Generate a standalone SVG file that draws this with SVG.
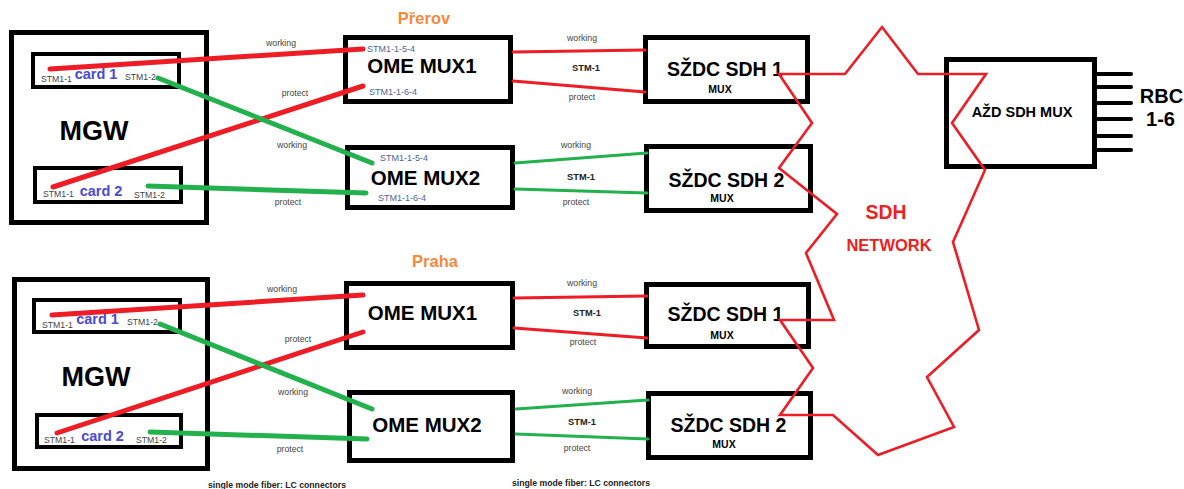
<svg xmlns="http://www.w3.org/2000/svg" width="1184" height="489" viewBox="0 0 1184 489">
<style>
text{font-family:"Liberation Sans",Arial,sans-serif}
.box{fill:#fff;stroke:#000;stroke-width:5}
.card{fill:#fff;stroke:#000;stroke-width:4}
.mgw{font-size:27px;font-weight:bold;fill:#000}
.cardt{font-size:14.5px;font-weight:bold;fill:#4a4ad2}
.port{font-size:8.7px;fill:#444}
.oport{font-size:9px;fill:#4d6496}
.ome{font-size:20.5px;font-weight:bold;fill:#000;text-anchor:middle}
.sdh{font-size:19.5px;font-weight:bold;fill:#000;text-anchor:middle}
.mux{font-size:10.5px;font-weight:bold;fill:#000;text-anchor:middle}
.lbl{font-size:8.7px;fill:#444;text-anchor:middle}
.stm{font-size:9.3px;font-weight:bold;fill:#222;text-anchor:middle}
.site{font-size:16.5px;font-weight:bold;fill:#f58a3d;text-anchor:middle}
.net{font-weight:bold;fill:#ee2020;text-anchor:middle}
.cap{font-size:8.7px;font-weight:bold;fill:#222}
.thickr{stroke:#ee1c24;stroke-width:5;stroke-linecap:round;fill:none}
.thickg{stroke:#22b14c;stroke-width:5;stroke-linecap:round;fill:none}
.thinr{stroke:#ee1c24;stroke-width:3;stroke-linecap:round;fill:none}
.thing{stroke:#22b14c;stroke-width:3;stroke-linecap:round;fill:none}
</style>

<!-- Top site: Přerov -->
<g id="mgw-prerov">
<rect class="box" x="11.5" y="32.5" width="195" height="190"/>
<text class="mgw" x="94" y="140" text-anchor="middle">MGW</text>
</g>
<g id="card1-prerov">
<rect class="card" x="33" y="54" width="146" height="33"/>
<text class="port" x="41" y="82">STM1-1</text>
<text class="cardt" x="96" y="79" text-anchor="middle">card 1</text>
<text class="port" x="125" y="80">STM1-2</text>
</g>
<g id="card2-prerov">
<rect class="card" x="35" y="168" width="146" height="34"/>
<text class="port" x="43" y="197">STM1-1</text>
<text class="cardt" x="101" y="196" text-anchor="middle">card 2</text>
<text class="port" x="134" y="198">STM1-2</text>
</g>
<text class="site" x="424" y="24">Přerov</text>
<g id="ome-mux1-prerov">
<rect class="box" x="345.5" y="37.5" width="165" height="64"/>
<text class="ome" x="422" y="73">OME MUX1</text>
<text class="oport" x="367" y="52">STM1-1-5-4</text>
<text class="oport" x="369" y="95">STM1-1-6-4</text>
</g>
<g id="ome-mux2-prerov">
<rect class="box" x="347.5" y="147.5" width="165" height="60"/>
<text class="ome" x="425.5" y="185">OME MUX2</text>
<text class="oport" x="380" y="161">STM1-1-5-4</text>
<text class="oport" x="378" y="201">STM1-1-6-4</text>
</g>
<g id="szdc-sdh1-prerov">
<rect class="box" x="645.5" y="37.5" width="162" height="64"/>
<text class="sdh" x="725" y="76">SŽDC SDH 1</text>
<text class="mux" x="720" y="93">MUX</text>
</g>
<g id="szdc-sdh2-prerov">
<rect class="box" x="646.5" y="146.5" width="164" height="64"/>
<text class="sdh" x="726.5" y="187">SŽDC SDH 2</text>
<text class="mux" x="722" y="202">MUX</text>
</g>

<!-- Bottom site: Praha -->
<g id="mgw-praha">
<rect class="box" x="14.5" y="279.5" width="193" height="189"/>
<text class="mgw" x="96" y="386" text-anchor="middle">MGW</text>
</g>
<g id="card1-praha">
<rect class="card" x="34" y="300" width="146" height="32"/>
<text class="port" x="42" y="328">STM1-1</text>
<text class="cardt" x="97.5" y="324" text-anchor="middle">card 1</text>
<text class="port" x="127" y="325">STM1-2</text>
</g>
<g id="card2-praha">
<rect class="card" x="37" y="415" width="144" height="32"/>
<text class="port" x="44" y="443">STM1-1</text>
<text class="cardt" x="102.5" y="441" text-anchor="middle">card 2</text>
<text class="port" x="136" y="443">STM1-2</text>
</g>
<text class="site" x="435" y="267">Praha</text>
<g id="ome-mux1-praha">
<rect class="box" x="346.5" y="283.5" width="166" height="64"/>
<text class="ome" x="422.5" y="320">OME MUX1</text>
</g>
<g id="ome-mux2-praha">
<rect class="box" x="349.5" y="392.5" width="163" height="68"/>
<text class="ome" x="427" y="432">OME MUX2</text>
</g>
<g id="szdc-sdh1-praha">
<rect class="box" x="646.5" y="284.5" width="162" height="62"/>
<text class="sdh" x="725.5" y="321">SŽDC SDH 1</text>
<text class="mux" x="722" y="339">MUX</text>
</g>
<g id="szdc-sdh2-praha">
<rect class="box" x="648.5" y="393.5" width="162" height="64"/>
<text class="sdh" x="728.5" y="432">SŽDC SDH 2</text>
<text class="mux" x="724" y="448">MUX</text>
</g>

<!-- AŽD -->
<g id="azd-sdh-mux">
<rect class="box" x="946.5" y="59.5" width="148" height="107"/>
<text x="1022" y="117" font-size="14.5" font-weight="bold" text-anchor="middle" fill="#000">AŽD SDH MUX</text>
<g stroke="#000" stroke-width="4" stroke-linecap="round">
<line x1="1096" y1="74" x2="1131" y2="74"/>
<line x1="1096" y1="87" x2="1131" y2="87"/>
<line x1="1096" y1="103" x2="1131" y2="103"/>
<line x1="1096" y1="119" x2="1131" y2="119"/>
<line x1="1096" y1="136" x2="1131" y2="136"/>
<line x1="1096" y1="150" x2="1131" y2="150"/>
</g>
<text x="1161.5" y="103" font-size="20" font-weight="bold" text-anchor="middle" fill="#000">RBC</text>
<text x="1160.5" y="126" font-size="20" font-weight="bold" text-anchor="middle" fill="#000">1-6</text>
</g>

<!-- connectors -->
<g id="connectors">
<line class="thickr" x1="50" y1="69" x2="363" y2="49"/>
<line class="thickr" x1="53" y1="187" x2="363" y2="86"/>
<line class="thickg" x1="158" y1="78" x2="372" y2="163"/>
<line class="thickg" x1="148" y1="186" x2="366" y2="193"/>
<line class="thinr" x1="513" y1="52" x2="645" y2="50"/>
<line class="thinr" x1="513" y1="81" x2="645" y2="92"/>
<line class="thing" x1="515" y1="163" x2="647" y2="153"/>
<line class="thing" x1="515" y1="189" x2="647" y2="193"/>

<line class="thickr" x1="52" y1="315" x2="363" y2="295"/>
<line class="thickr" x1="57" y1="433" x2="363" y2="332"/>
<line class="thickg" x1="160" y1="324" x2="372" y2="409"/>
<line class="thickg" x1="150" y1="432" x2="367" y2="439"/>
<line class="thinr" x1="514" y1="298" x2="647" y2="296"/>
<line class="thinr" x1="514" y1="328" x2="647" y2="338"/>
<line class="thing" x1="516" y1="409" x2="648" y2="400"/>
<line class="thing" x1="516" y1="434" x2="648" y2="439"/>
</g>

<g id="sdh-network">
<polygon fill="none" stroke="#ee1c24" stroke-width="2.6" stroke-linejoin="miter" points="779,74 845,74 882,27 918,74 986,74 952,123 985,170 953,242 979,330 927,377 954,427 878,455 833,415 780,415 813,368 780,320 834,320 806,253 837,214 779,168 812,123"/>
<text class="net" x="886" y="219" font-size="19.4">SDH</text>
<text class="net" x="889" y="251" font-size="16.5">NETWORK</text>
</g>

<!-- connector labels -->
<g id="labels">
<text class="lbl" x="281" y="46">working</text>
<text class="lbl" x="295" y="96">protect</text>
<text class="lbl" x="292" y="148">working</text>
<text class="lbl" x="288" y="205">protect</text>
<text class="lbl" x="582" y="41">working</text>
<text class="stm" x="586" y="71">STM-1</text>
<text class="lbl" x="582" y="100">protect</text>
<text class="lbl" x="576" y="148">working</text>
<text class="stm" x="581" y="180">STM-1</text>
<text class="lbl" x="576" y="205">protect</text>

<text class="lbl" x="282" y="292">working</text>
<text class="lbl" x="298" y="342">protect</text>
<text class="lbl" x="293" y="395">working</text>
<text class="lbl" x="290" y="452">protect</text>
<text class="lbl" x="582" y="286">working</text>
<text class="stm" x="587" y="316">STM-1</text>
<text class="lbl" x="583" y="345">protect</text>
<text class="lbl" x="577" y="394">working</text>
<text class="stm" x="582" y="425">STM-1</text>
<text class="lbl" x="577" y="451">protect</text>

<text class="cap" x="208" y="488" textLength="138">single mode fiber: LC connectors</text>
<text class="cap" x="512" y="486" textLength="138">single mode fiber: LC connectors</text>
</g>
</svg>
